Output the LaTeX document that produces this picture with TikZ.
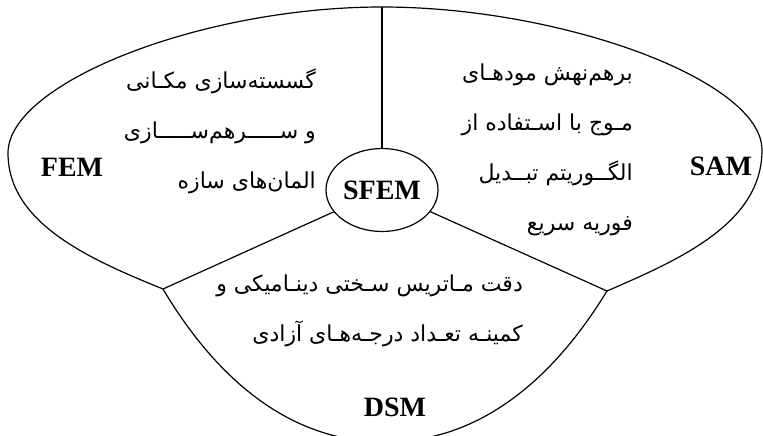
\documentclass[tikz,border=0pt]{standalone}
\usepackage{fontspec}
\setmainfont{Liberation Serif}
\newfontfamily\fa[Script=Arabic]{DejaVu Sans}
\TeXXeTstate=1
\usetikzlibrary{shapes.geometric}

\begin{document}
\begin{tikzpicture}[
    x=1pt, y=-1pt,
    rim/.style={draw, line width=1.2pt},
    lbl/.style={font=\fontsize{28}{30}\selectfont\bfseries, inner sep=0pt},
    note/.style={font=\fa\fontsize{22}{50}\selectfont, align=right, inner sep=0pt},
    hub/.style={ellipse, draw, line width=1.2pt, minimum width=112pt, minimum height=83pt, inner sep=0pt},
    ]
    \useasboundingbox (0,0) rectangle (763,436);

    % corner points of the three lobes
    \coordinate (top) at (382,7);
    \coordinate (ljunc) at (163,289);
    \coordinate (rjunc) at (607,291);
    \coordinate (bot) at (385,442);

    % SFEM hub (center)
    \node[hub] (sfem) at (382,190) {};
    \node[lbl] (sfemlbl) at (sfem) {SFEM};

    % outer lobes: FEM (left) and SAM (right)
    \draw[rim] (ljunc) .. controls (89,259) and (8,223) .. (8,153)
        .. controls (8,83) and (201,7) .. (top)
        .. controls (561,7) and (762,80) .. (762,150)
        .. controls (762,223) and (681,259) .. (rjunc);
    % DSM lobe (bottom)
    \draw[rim] (ljunc) .. controls (204,358) and (275,442) .. (bot)
        .. controls (495,442) and (566,358) .. (rjunc);

    % spokes from the hub
    \draw[rim] (sfem) -- (top);
    \draw[rim] (sfem) -- (ljunc);
    \draw[rim] (sfem) -- (rjunc);

    % labels
    \node[lbl] (fem) at (72,167) {FEM};
    \node[lbl] (sam) at (721,166) {SAM};
    \node[lbl] (dsm) at (395,407) {DSM};

    % notes
    \node[note, anchor=east] (femnote) at (316,131) {%
        \beginR گسسته‌سازی مکـانی\endR\\
        \beginR و ســـــرهم‌ســـــازی\endR\\
        \beginR المان‌های سازه\endR};
    \node[note, anchor=east] (samnote) at (633,150) {%
        \beginR برهم‌نهش مودهـای\endR\\
        \beginR مـوج با اسـتفاده از\endR\\
        \beginR الگــوریتم تبــدیل\endR\\
        \beginR فوریه سریع\endR};
    \node[note, anchor=east] (dsmnote) at (523,311) {%
        \beginR دقت مـاتریس سـختی دینـامیکی و\endR\\
        \beginR کمینـه تعـداد درجـه‌هـای آزادی\endR};
\end{tikzpicture}
\end{document}
